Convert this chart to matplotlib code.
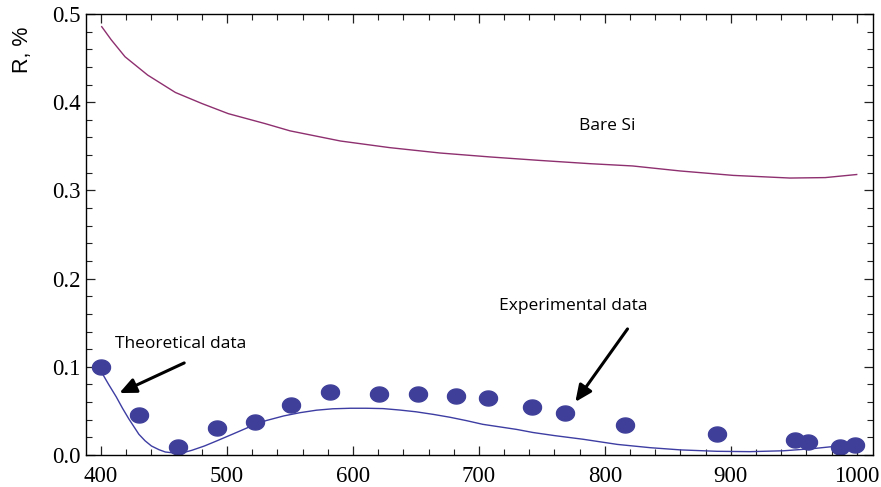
import numpy as np
import matplotlib.pyplot as plt
from matplotlib.ticker import MultipleLocator

# Bare Si reflectance
si_wl = [400.5, 408, 419, 437, 459, 480, 501, 530, 550, 590, 629, 669, 709, 748, 788, 822, 860, 902, 947,
         975, 1000]
si_r = [0.4856, 0.4708, 0.4515, 0.4307, 0.411, 0.3985, 0.387, 0.3758, 0.3675, 0.356, 0.3485, 0.3424, 0.3379,
        0.334, 0.3303, 0.3277, 0.322, 0.317, 0.314, 0.3145, 0.318]

# theoretical curve for coated sample
th_wl = [400.5, 406, 412, 417, 422, 430, 435, 440, 446, 451, 460, 466, 472, 482, 491, 505, 518, 531, 545,
         558, 571, 584, 598, 611, 624, 637, 650, 664, 677, 690, 703, 730, 743, 760, 783, 810, 836, 860, 889,
         915, 942, 965, 984]
th_r = [0.0935, 0.080, 0.066, 0.053, 0.041, 0.0235, 0.016, 0.0102, 0.006, 0.0034, 0.002, 0.003, 0.0053,
        0.0102, 0.0155, 0.024, 0.032, 0.039, 0.0443, 0.048, 0.0508, 0.0524, 0.053, 0.053, 0.0526, 0.051,
        0.049, 0.046, 0.0428, 0.039, 0.0348, 0.029, 0.0255, 0.022, 0.0178, 0.012, 0.0083, 0.0058, 0.0042,
        0.0038, 0.0048, 0.0072, 0.010]

# experimental points
exp_wl = [400, 430, 461, 492, 522, 551, 582, 621, 652, 682, 707, 742, 768, 816, 889, 951, 961, 987, 999]
exp_r = [0.100, 0.0455, 0.009, 0.031, 0.0375, 0.057, 0.0716, 0.069, 0.069, 0.067, 0.065, 0.0545, 0.048,
         0.034, 0.024, 0.017, 0.0148, 0.009, 0.0114]

fig = plt.figure(figsize=(8.81, 4.87), dpi=100)
ax = fig.add_axes([0.0976, 0.0657, 0.8934, 0.9056])

ax.plot(si_wl, si_r, color="#8e2f6f", lw=1.0)
ax.plot(th_wl, th_r, color="#3d3da3", lw=1.0)

# slightly wide oval dots
t = np.linspace(0, 2 * np.pi, 40)
oval = np.column_stack([1.2 * np.cos(t), np.sin(t)])
ax.plot(exp_wl, exp_r, ls="none", marker=oval, ms=13, color="#3f3f9a", mec="#3f3f9a")

ax.set_xlim(388, 1013)
ax.set_ylim(0, 0.5)
ax.xaxis.set_major_locator(MultipleLocator(100))
ax.xaxis.set_minor_locator(MultipleLocator(20))
ax.yaxis.set_major_locator(MultipleLocator(0.1))
ax.yaxis.set_minor_locator(MultipleLocator(0.02))
ax.yaxis.set_major_formatter(plt.FuncFormatter(lambda v, p: "%.1f" % v))
ax.tick_params(which="both", direction="in", top=True, right=True, colors="#222222")
ax.tick_params(which="major", length=6.5, width=0.9, labelsize=16.5, labelcolor="black")
ax.tick_params(axis="x", which="major", pad=8)
ax.tick_params(axis="y", which="major", pad=4)
ax.tick_params(which="minor", length=4, width=0.8)
for lab in ax.get_xticklabels() + ax.get_yticklabels():
    lab.set_family("Liberation Serif")
for s in ax.spines.values():
    s.set_linewidth(1.0)

fig.text(0.026, 0.945, "R, %", rotation=90, ha="center", va="top", fontsize=15.5, family="Liberation Sans")

ax.text(801.6, 0.3727, "Bare Si", ha="center", va="center", fontsize=12.5, family="Open Sans")
ax.text(411, 0.126, "Theoretical data", ha="left", va="center", fontsize=12.5, family="Open Sans")
ax.text(716, 0.169, "Experimental data", ha="left", va="center", fontsize=12.5, family="Open Sans")

arrow = dict(arrowstyle="-|>,head_length=1.0,head_width=0.45", color="black", lw=2.2)
ax.annotate("", xy=(412.5, 0.0689), xytext=(468, 0.1057), arrowprops=arrow)
ax.annotate("", xy=(775.3, 0.0576), xytext=(819.3, 0.1455), arrowprops=arrow)

fig.savefig("out.png", dpi=100)
